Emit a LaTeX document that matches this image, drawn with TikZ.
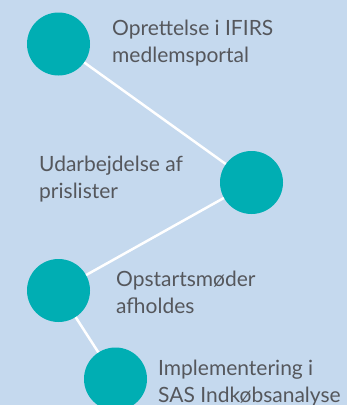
\documentclass[tikz,border=0pt]{standalone}
\usepackage{fontspec}
\setmainfont{Lato}
\usepackage{tikz}
\definecolor{bgblue}{HTML}{C5D9EE}
\definecolor{teal}{HTML}{00AEB3}
\definecolor{txtgray}{HTML}{55575C}

\begin{document}
\begin{tikzpicture}[x=1pt,y=-1pt,
  stepdot/.style={circle,fill=teal,minimum size=63pt,inner sep=0pt},
  link/.style={white,line width=2.5pt},
  steptext/.style={anchor=base west,align=left,inner sep=0pt,text=txtgray,
    font=\fontsize{21}{26.5}\selectfont}]
% Background
\fill[bgblue] (0,0) rectangle (347,405);
\useasboundingbox (0,0) rectangle (347,405);

% Steps
\node[stepdot] (s1) at (58.5,44) {};
\node[stepdot] (s2) at (251.5,182.5) {};
\node[stepdot] (s3) at (58.5,290.5) {};
\node[stepdot] (s4) at (115.5,379) {};

% Connections
\draw[link] (s1) -- (s2);
\draw[link] (s2) -- (s3);
\draw[link] (s3) -- (s4);

% Labels (anchored at the last baseline)
\node[steptext] (t1) at (112,62) {Oprettelse i IFIRS\\medlemsportal};
\node[steptext] (t2) at (39,198) {Udarbejdelse af\\prislister};
\node[steptext] (t3) at (116,313) {Opstartsmøder\\afholdes};
\node[steptext] (t4) at (158,402) {Implementering i\\SAS Indkøbsanalyse};
\end{tikzpicture}
\end{document}
